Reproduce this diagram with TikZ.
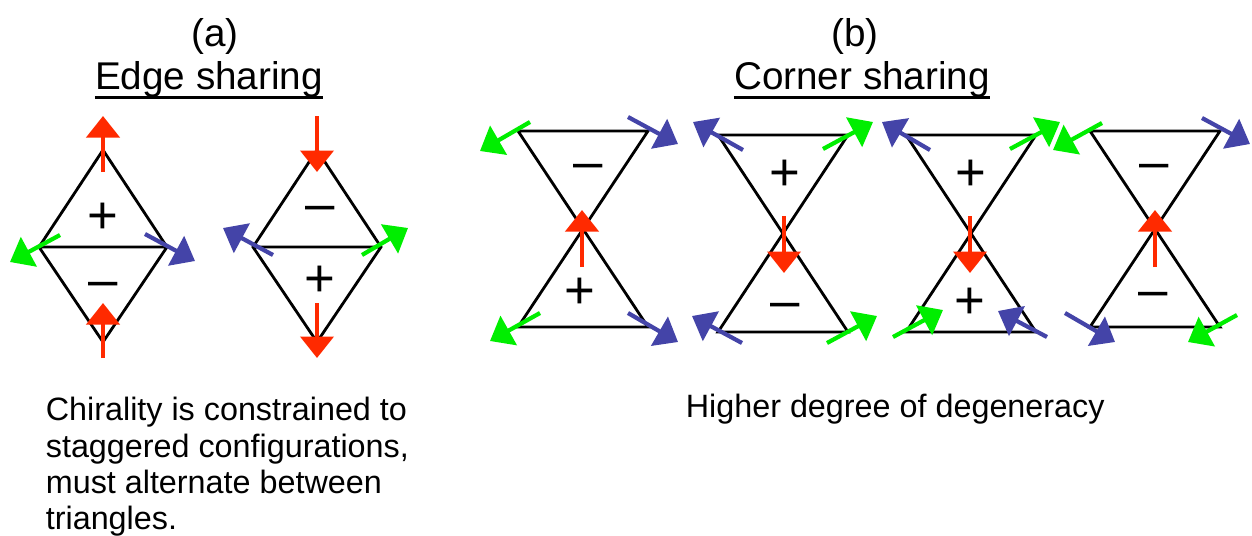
\documentclass[tikz,border=0pt]{standalone}
\usepackage{fontspec}
\setmainfont{Liberation Sans}
\usetikzlibrary{arrows.meta}
\definecolor{spinred}{HTML}{FF2A00}
\definecolor{spingreen}{HTML}{00EE00}
\definecolor{spinblue}{HTML}{4444A8}

\begin{document}
\begin{tikzpicture}[x=0.02cm,y=-0.02cm,
  edge/.style={line width=1.6pt,black,line join=miter},
  spin/.style={line width=2.4pt,-{Triangle[length=0.43cm,width=0.66cm]}},
  sign/.style={font=\fontsize{30}{30}\selectfont,inner sep=0pt,text height=0.74cm,text depth=0pt},
  head/.style={font=\fontsize{22}{24}\selectfont,inner sep=0pt},
  body/.style={font=\fontsize{18.4}{20.7}\selectfont,inner sep=0pt,align=left}]
\useasboundingbox (0,0) rectangle (1252,535);
% headings, underlined by hand
\node[head] (pa) at (215,36) {(a)};
\node[head,anchor=base] (ta) at (209,89) {Edge sharing};
\node[head] (pb) at (855,36) {(b)};
\node[head,anchor=base] (tb) at (862,89) {Corner sharing};
\foreach \t in {ta,tb} {\draw[line width=1.4pt] ([yshift=-0.17cm]\t.base west) -- ([yshift=-0.17cm]\t.base east);}
% (a) two diamonds sharing an edge
\foreach \n/\x in {1/103,2/317} {\coordinate (d\n-t) at (\x,150); \coordinate (d\n-l) at (\x-64,247); \coordinate (d\n-r) at (\x+64,247); \coordinate (d\n-b) at (\x,342);
  \draw[edge] (d\n-t) -- (d\n-r) -- (d\n-b) -- (d\n-l) -- cycle (d\n-l) -- (d\n-r);}
% (b) four hourglasses sharing a corner
\foreach \n/\x/\ya/\yb in {1/583/131/327,2/783/135/332,3/971/135/332,4/1155/131/327} {\coordinate (h\n-tl) at (\x-65,\ya); \coordinate (h\n-tr) at (\x+65,\ya); \coordinate (h\n-bl) at (\x-65,\yb); \coordinate (h\n-br) at (\x+65,\yb);
  \draw[edge] (h\n-tl) -- (h\n-tr) -- (h\n-bl) -- (h\n-br) -- cycle;}
% chirality signs
\foreach \n/\x/\y/\s in {1/103/215/+,2/103/279/–,3/320/203/–,4/320/278/+,5/588/161/–,6/580/290/+,7/785/172/+,8/785/300/–,9/971/172/+,10/970/300/+,11/1154/161/–,12/1153/289/–} {\node[sign] (sg\n) at (\x,\y) {\s};}
% spins on the corners
\foreach \c/\xa/\ya/\xb/\yb in {spinred/103/172/103/116,spingreen/60/235/10/262,spinblue/145/234/195/261,spinred/103/358/103/303,
  spinred/317/116/317/172,spinblue/273/255/223/228,spingreen/362/255/408/228,spinred/317/303/317/358,
  spinred/582/267/582/210,spingreen/530/122/480/151,spinblue/628/117/678/144,spingreen/540/313/490/341,spinblue/628/313/678/342,
  spinred/784/216/784/273,spinblue/743/150/693/122,spingreen/823/149/873/122,spinblue/742/343/692/316,spingreen/827/343/877/316,
  spinred/970/216/970/273,spinblue/930/150/882/122,spingreen/1010/149/1060/122,spingreen/893/337/943/310,spinblue/1047/337/998/311,
  spinred/1155/267/1155/210,spingreen/1102/123/1053/150,spinblue/1202/118/1250/144,spinblue/1065/313/1115/342,spingreen/1237/315/1188/342} {\draw[spin,\c] (\xa,\ya) -- (\xb,\yb);}
% captions
\node[body,anchor=north west] (capa) at (45.5,397) {Chirality is constrained to\\staggered configurations,\\must alternate between\\triangles.};
\node[body,anchor=base west] (capb) at (685.5,417) {Higher degree of degeneracy};
\end{tikzpicture}
\end{document}
